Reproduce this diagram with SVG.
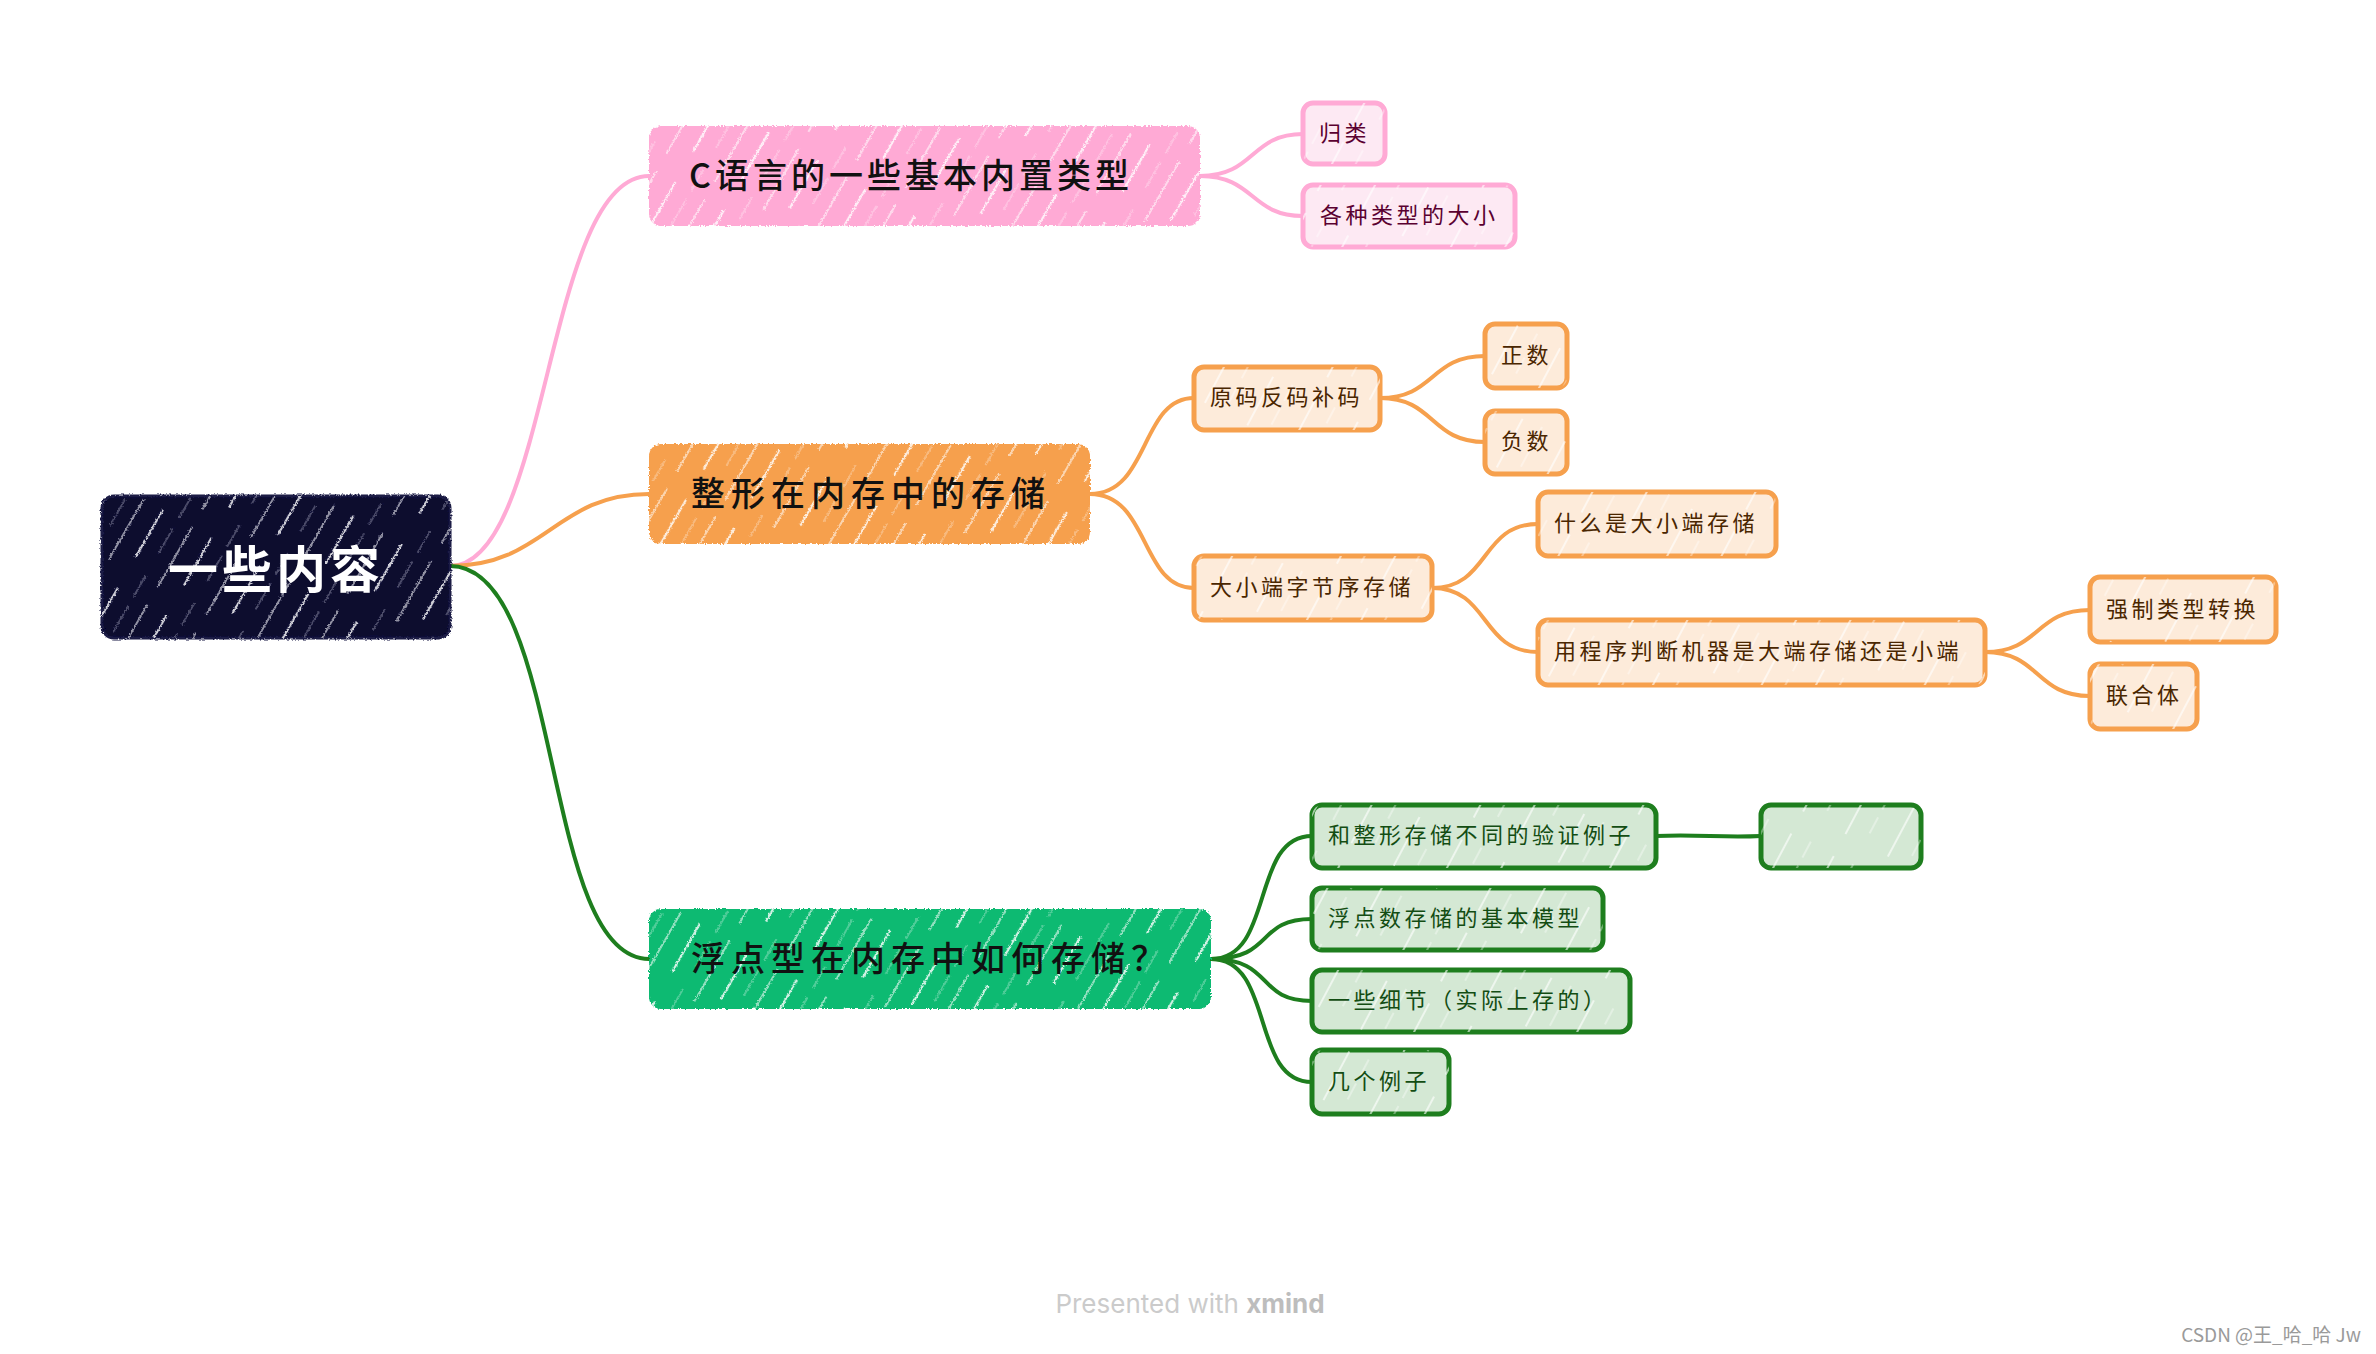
<svg xmlns="http://www.w3.org/2000/svg" width="2376" height="1354" viewBox="0 0 2376 1354">
<defs>
<pattern id="hatch" width="56" height="90" patternUnits="userSpaceOnUse" patternTransform="rotate(30)">
<line x1="4" y1="0" x2="4" y2="90" stroke="#fff" stroke-width="2.2" stroke-opacity="0.8" stroke-dasharray="55 35"/>
<line x1="22" y1="10" x2="22" y2="90" stroke="#fff" stroke-width="1" stroke-opacity="0.55" stroke-dasharray="30 25"/>
<line x1="38" y1="0" x2="38" y2="90" stroke="#fff" stroke-width="1.6" stroke-opacity="0.7" stroke-dasharray="70 20"/>
</pattern>
<pattern id="hatchL" width="48" height="80" patternUnits="userSpaceOnUse" patternTransform="rotate(28)">
<line x1="5" y1="0" x2="5" y2="80" stroke="#fff" stroke-width="1.5" stroke-opacity="0.8" stroke-dasharray="30 25"/>
<line x1="26" y1="0" x2="26" y2="80" stroke="#fff" stroke-width="1" stroke-opacity="0.7" stroke-dasharray="18 35"/>
</pattern>
<filter id="rough" x="-5%" y="-10%" width="110%" height="120%">
<feTurbulence type="fractalNoise" baseFrequency="0.6" numOctaves="1" seed="3" result="n"/>
<feDisplacementMap in="SourceGraphic" in2="n" scale="4" xChannelSelector="R" yChannelSelector="G"/>
</filter>
</defs>
<style>
text{font-family:"Noto Sans CJK SC","Noto Sans",sans-serif;dominant-baseline:central;transform:translateY(-3px)}
.conn path{fill:none;stroke-width:4;stroke-linecap:round}
.pk{stroke:#ffaad5}.or{stroke:#f6a04d}.gr{stroke:#1e7e1e}
.main text{font-size:34px;letter-spacing:6px;fill:#111;font-weight:500}
.kid text{font-size:22px;letter-spacing:3.5px}
.pkid rect.b{fill:#fde9f3;stroke:#ffaad5;stroke-width:5}
.pkid text{fill:#5a0030}
.okid rect.b{fill:#fdebda;stroke:#f6a04d;stroke-width:5}
.okid text{fill:#4a2600}
.gkid rect.b{fill:#d4e8d4;stroke:#1e7e1e;stroke-width:5}
.gkid text{fill:#134d13}
.h{fill:url(#hatchL)}
</style>
<rect width="2376" height="1354" fill="#fff"/>
<g id="connectors" class="conn">
<path class="pk" d="M450,566 C550,566 545,176 649,176"/>
<path class="or" d="M450,566 C545,566 555,494 649,494"/>
<path class="gr" d="M450,566 C565,566 540,959 649,959"/>
<path class="pk" d="M1200,176 C1255,176 1250,134 1303,134"/>
<path class="pk" d="M1200,176 C1255,176 1250,216 1303,216"/>
<path class="or" d="M1090,494 C1150,494 1140,398 1194,398"/>
<path class="or" d="M1090,494 C1150,494 1140,588 1194,588"/>
<path class="or" d="M1380,398 C1435,398 1430,356 1485,356"/>
<path class="or" d="M1380,398 C1435,398 1430,442 1485,442"/>
<path class="or" d="M1432,588 C1490,588 1480,524 1538,524"/>
<path class="or" d="M1432,588 C1490,588 1480,652 1538,652"/>
<path class="or" d="M1985,652 C2040,652 2035,610 2090,610"/>
<path class="or" d="M1985,652 C2040,652 2035,696 2090,696"/>
<path class="gr" d="M1211,959 C1275,959 1250,836 1312,836"/>
<path class="gr" d="M1211,959 C1275,959 1255,919 1312,919"/>
<path class="gr" d="M1211,959 C1275,959 1255,1001 1312,1001"/>
<path class="gr" d="M1211,959 C1275,959 1250,1082 1312,1082"/>
<path class="gr" d="M1656,836 C1700,834 1720,838 1761,836"/>
</g>
<g id="root">
<g filter="url(#rough)"><rect x="102" y="496" width="348" height="142" rx="12" fill="#07072e" stroke="#1a1a44" stroke-width="3"/>
<rect x="102" y="496" width="348" height="142" rx="12" fill="url(#hatch)"/></g>
<text x="276" y="569" text-anchor="middle" font-size="50" font-weight="bold" letter-spacing="4" fill="#fff">一些内容</text>
</g>
<g id="n-pink" class="main">
<g filter="url(#rough)"><rect x="649" y="126" width="551" height="100" rx="12" fill="#ffaad5"/><rect x="649" y="126" width="551" height="100" rx="12" fill="url(#hatch)"/></g>
<text x="689" y="176" style="letter-spacing:4px">C语言的一些基本内置类型</text>
</g>
<g id="n-pk1" class="kid pkid"><rect class="b" x="1303" y="103" width="82" height="61" rx="10"/><rect class="h" x="1303" y="103" width="82" height="61" rx="10"/><text x="1319" y="134">归类</text></g>
<g id="n-pk2" class="kid pkid"><rect class="b" x="1303" y="185" width="212" height="62" rx="10"/><rect class="h" x="1303" y="185" width="212" height="62" rx="10"/><text x="1320" y="216">各种类型的大小</text></g>
<g id="n-orange" class="main">
<g filter="url(#rough)"><rect x="649" y="444" width="441" height="100" rx="12" fill="#f6a04d"/><rect x="649" y="444" width="441" height="100" rx="12" fill="url(#hatch)"/></g>
<text x="691" y="494">整形在内存中的存储</text>
</g>
<g id="n-or1" class="kid okid"><rect class="b" x="1194" y="367" width="186" height="63" rx="10"/><rect class="h" x="1194" y="367" width="186" height="63" rx="10"/><text x="1210" y="398">原码反码补码</text></g>
<g id="n-or1a" class="kid okid"><rect class="b" x="1485" y="324" width="82" height="64" rx="10"/><rect class="h" x="1485" y="324" width="82" height="64" rx="10"/><text x="1501" y="356">正数</text></g>
<g id="n-or1b" class="kid okid"><rect class="b" x="1485" y="411" width="82" height="63" rx="10"/><rect class="h" x="1485" y="411" width="82" height="63" rx="10"/><text x="1501" y="442">负数</text></g>
<g id="n-or2" class="kid okid"><rect class="b" x="1194" y="556" width="238" height="64" rx="10"/><rect class="h" x="1194" y="556" width="238" height="64" rx="10"/><text x="1210" y="588">大小端字节序存储</text></g>
<g id="n-or2a" class="kid okid"><rect class="b" x="1538" y="492" width="238" height="64" rx="10"/><rect class="h" x="1538" y="492" width="238" height="64" rx="10"/><text x="1554" y="524">什么是大小端存储</text></g>
<g id="n-or2b" class="kid okid"><rect class="b" x="1538" y="620" width="447" height="65" rx="10"/><rect class="h" x="1538" y="620" width="447" height="65" rx="10"/><text x="1554" y="652">用程序判断机器是大端存储还是小端</text></g>
<g id="n-or2b1" class="kid okid"><rect class="b" x="2090" y="577" width="186" height="65" rx="10"/><rect class="h" x="2090" y="577" width="186" height="65" rx="10"/><text x="2106" y="610">强制类型转换</text></g>
<g id="n-or2b2" class="kid okid"><rect class="b" x="2090" y="664" width="107" height="65" rx="10"/><rect class="h" x="2090" y="664" width="107" height="65" rx="10"/><text x="2106" y="696">联合体</text></g>
<g id="n-green" class="main">
<g filter="url(#rough)"><rect x="649" y="909" width="562" height="100" rx="12" fill="#0dba72"/><rect x="649" y="909" width="562" height="100" rx="12" fill="url(#hatch)"/></g>
<text x="691" y="959">浮点型在内存中如何存储？</text>
</g>
<g id="n-gr1" class="kid gkid"><rect class="b" x="1312" y="805" width="344" height="63" rx="10"/><rect class="h" x="1312" y="805" width="344" height="63" rx="10"/><text x="1328" y="836">和整形存储不同的验证例子</text></g>
<g id="n-gr1a" class="kid gkid"><rect class="b" x="1761" y="805" width="160" height="63" rx="10"/><rect class="h" x="1761" y="805" width="160" height="63" rx="10"/></g>
<g id="n-gr2" class="kid gkid"><rect class="b" x="1312" y="888" width="291" height="62" rx="10"/><rect class="h" x="1312" y="888" width="291" height="62" rx="10"/><text x="1328" y="919">浮点数存储的基本模型</text></g>
<g id="n-gr3" class="kid gkid"><rect class="b" x="1312" y="970" width="318" height="62" rx="10"/><rect class="h" x="1312" y="970" width="318" height="62" rx="10"/><text x="1328" y="1001">一些细节（实际上存的）</text></g>
<g id="n-gr4" class="kid gkid"><rect class="b" x="1312" y="1050" width="137" height="64" rx="10"/><rect class="h" x="1312" y="1050" width="137" height="64" rx="10"/><text x="1328" y="1082">几个例子</text></g>
<text x="1190" y="1306" text-anchor="middle" font-size="26" fill="#cbcbcb" style="font-family:Inter,'Noto Sans',sans-serif">Presented with <tspan font-weight="bold" fill="#bdbdbd">xmind</tspan></text>
<text x="2361" y="1336" text-anchor="end" font-size="19" fill="#9a9a9a">CSDN @王_哈_哈 Jw</text>
</svg>
